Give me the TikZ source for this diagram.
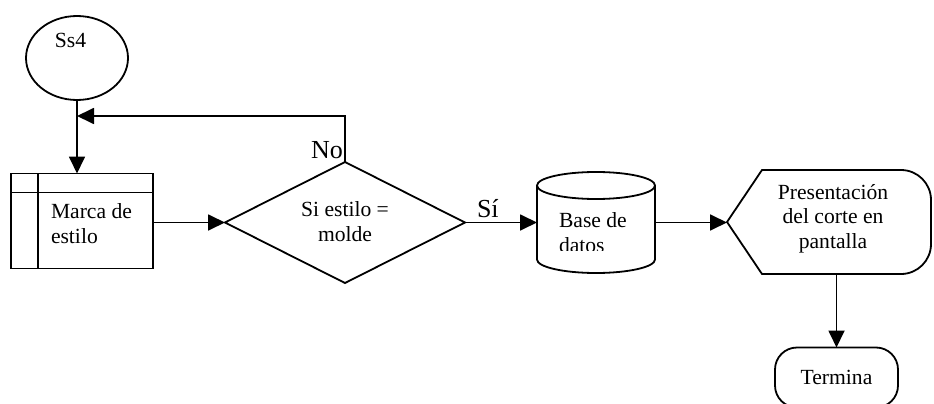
\documentclass[tikz,border=0pt]{standalone}
\usepackage{fontspec}
\setmainfont{Liberation Serif}
\usetikzlibrary{shapes.geometric,arrows.meta}
\begin{document}
\begin{tikzpicture}[x=1pt,y=-1pt,
  every node/.style={inner sep=0pt,outer sep=0pt},
  line/.style={line width=1.8pt},
  arr/.style={line width=1.8pt,-{Triangle[length=17pt,width=16pt]}},
  txt/.style={font=\fontsize{21.6}{24.5}\selectfont},
  big/.style={font=\fontsize{26}{30}\selectfont}]
\clip (0,0) rectangle (934,404);
\fill[white] (0,0) rectangle (934,404);
% start connector
\node[draw,line,ellipse,minimum width=102pt,minimum height=84pt] (ss4) at (77,58) {};
\node[txt,anchor=base] (ss4t) at (70.5,48) {Ss4};
% predefined process box
\node[draw,line,rectangle,minimum width=142pt,minimum height=95pt] (mb) at (82,221) {};
\draw[line] ([yshift=-19pt]mb.north west) -- ([yshift=-19pt]mb.north east);
\draw[line] ([xshift=27pt]mb.north west) -- ([xshift=27pt]mb.south west);
\node[txt,align=left,anchor=base west] (mbt) at (51,243) {Marca de\\estilo};
% decision
\node[draw,line,diamond,minimum width=240pt,minimum height=121pt] (dec) at (345,222.5) {};
\node[txt,align=center,anchor=base] (dect) at (345,241) {Si estilo =\\molde};
% database
\node[minimum width=118pt,minimum height=101pt] (db) at (596,222.5) {};
\draw[line] (537,185.5) -- (537,259.5) arc[start angle=180,end angle=0,x radius=59,y radius=13.5] -- (655,185.5);
\draw[line] (596,185.5) ellipse[x radius=59,y radius=13.5];
\begin{scope}
\clip (537,172) rectangle (655,250);
\node[txt,align=left,anchor=base west] (dbt) at (559,252) {Base de\\datos};
\end{scope}
% display
\node[minimum width=204pt,minimum height=103pt] (disp) at (829,222) {};
\draw[line] (727,222) -- (762,170) -- (901,170) arc[start angle=270,end angle=360,radius=30]
  -- (931,244) arc[start angle=0,end angle=90,radius=30] -- (762,274) -- cycle;
\node[txt,align=center,anchor=base] (dispt) at (833,248) {Presentación\\del corte en\\pantalla};
% terminal
\node[draw,line,rectangle,rounded corners=22pt,minimum width=123pt,minimum height=60pt,txt] (term) at (836.5,377.5) {Termina};
% connectors
\coordinate (fb) at (77,116);
\draw[arr] (ss4.south) -- (ss4.south |- mb.north);
\draw[arr] (dec.north) |- (fb);
\draw[arr] (mb.east |- dec.west) -- (dec.west);
\draw[arr] (dec.east) -- (db.west |- dec.east);
\draw[arr] (db.east) -- (db.east -| disp.west);
\draw[arr] (term.north |- disp.south) -- (term.north);
% labels
\node[big,anchor=base east] (nol) at (343,158) {No};
\node[big,anchor=base west] (sil) at (477,217) {Sí};
\end{tikzpicture}
\end{document}
